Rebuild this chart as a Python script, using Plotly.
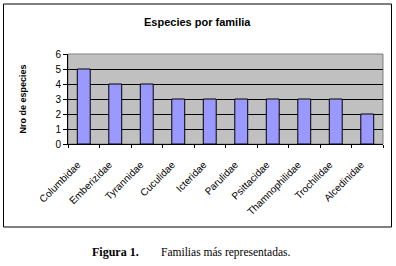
import plotly.graph_objects as go

familias = ["Columbidae", "Emberizidae", "Tyrannidae", "Cuculidae", "Icteridae",
            "Parulidae", "Psittacidae", "Thamnophilidae", "Trochilidae", "Alcedinidae"]
especies = [5, 4, 4, 3, 3, 3, 3, 3, 3, 2]
y_ticks = [0, 1, 2, 3, 4, 5, 6]

W, H = 396, 266
L, R, T, B = 68, 383, 54, 144
pw, ph = R - L, B - T


def px(x):
    return (x - L) / pw


def py(y):
    return (B - y) / ph


fig = go.Figure(go.Bar(
    x=familias, y=especies,
    marker=dict(color="#9999ff", line=dict(color="black", width=1)),
))

fig.update_layout(
    width=W, height=H,
    margin=dict(l=L, r=W - R, t=T, b=H - B),
    paper_bgcolor="white",
    plot_bgcolor="#c0c0c0",
    bargap=0.59,
    showlegend=False,
    font=dict(family="Arial, Liberation Sans", color="black"),
)
fig.update_yaxes(
    range=[0, 6], tickvals=y_ticks, showgrid=True, gridcolor="black", gridwidth=1,
    showline=True, linecolor="black", linewidth=1, ticks="outside", ticklen=4,
    tickcolor="black", tickfont=dict(size=10), zeroline=False, fixedrange=True,
)
fig.update_xaxes(
    showline=True, linecolor="black", linewidth=1, ticks="outside", ticklen=3,
    tickcolor="black", tickson="boundaries", tickangle=-45,
    tickfont=dict(size=10), showgrid=False,
    ticklabelstandoff=10, ticklabelshift=-6,
)

# outer chart border
fig.add_shape(type="rect", xref="paper", yref="paper",
              x0=px(3.5), x1=px(391.5), y0=py(227), y1=py(4),
              line=dict(color="black", width=1), layer="below")
# border of plot area
fig.add_shape(type="rect", xref="paper", yref="paper",
              x0=0, x1=1, y0=0, y1=1,
              line=dict(color="#808080", width=1), layer="below")

common = dict(xref="paper", yref="paper", showarrow=False, yanchor="middle")
fig.add_annotation(text="<b>Especies por familia</b>", x=px(197), y=py(22),
                   xanchor="center", font=dict(size=11, family="Arial, Liberation Sans"),
                   **common)
fig.add_annotation(text="<b>Nro de especies</b>", x=px(22.5), y=py(99),
                   xanchor="center", textangle=-90,
                   font=dict(size=9, family="Arial, Liberation Sans"), **common)
fig.add_annotation(text="<b>Figura 1.</b>", x=px(90), y=py(252), xanchor="left",
                   font=dict(size=12, family="Liberation Serif, Times New Roman"),
                   **common)
fig.add_annotation(text="Familias más representadas.", x=px(159), y=py(252),
                   xanchor="left",
                   font=dict(size=11.5, family="Liberation Serif, Times New Roman"),
                   **common)

fig.write_html(
    "out.html",
    config={"displayModeBar": False},
    post_script="document.body.style.margin='0';document.body.style.overflow='hidden';",
)
